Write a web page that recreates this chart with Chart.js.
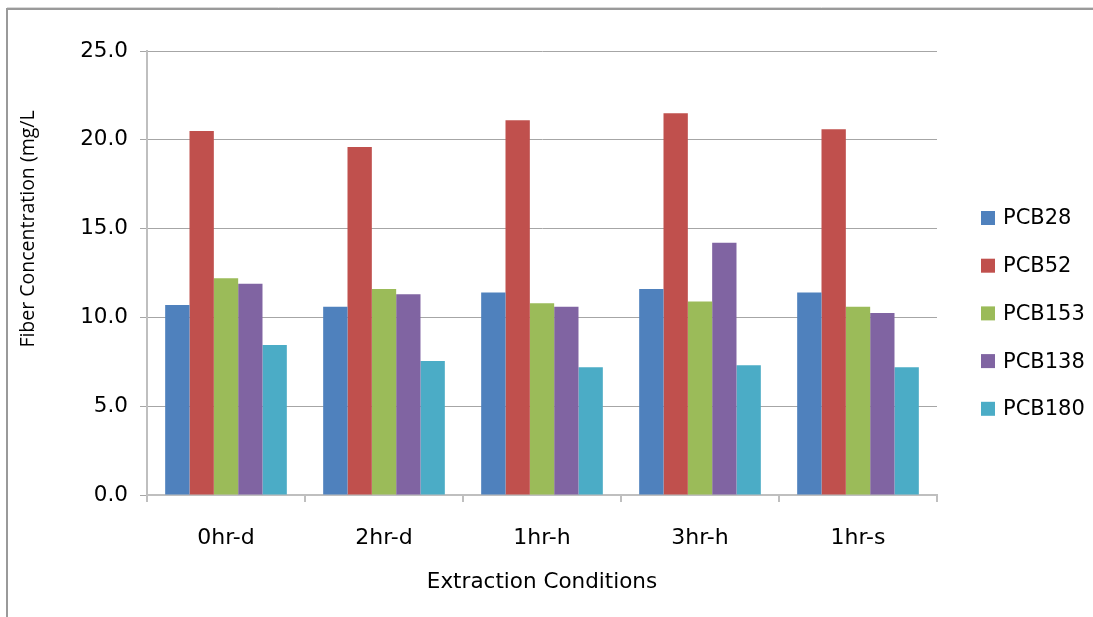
<!DOCTYPE html>
<html>
<head>
<meta charset="utf-8">
<script src="https://cdn.jsdelivr.net/npm/chart.js@4"></script>
<style>
  html, body { margin: 0; padding: 0; background: #fff; }
  #wrap { width: 1093px; height: 617px; position: relative; }
</style>
</head>
<body>
<div id="wrap"><canvas id="chart"></canvas></div>
<script>
const categories = ["0hr-d", "2hr-d", "1hr-h", "3hr-h", "1hr-s"];
const pcb28  = [10.7, 10.6, 11.4, 11.6, 11.4];
const pcb52  = [20.5, 19.6, 21.1, 21.5, 20.6];
const pcb153 = [12.2, 11.6, 10.8, 10.9, 10.6];
const pcb138 = [11.9, 11.3, 10.6, 14.2, 10.25];
const pcb180 = [8.45, 7.55, 7.2, 7.3, 7.2];
const yTicks = [0, 5, 10, 15, 20, 25];

const FONT = "'DejaVu Sans', sans-serif";

// frame, y title and legend drawn by hand
const extras = {
    id: 'extras',
    afterDraw(chart) {
        const ctx = chart.ctx;
        ctx.save();
        // outer frame (left + top)
        ctx.strokeStyle = "#d9d9d9";
        ctx.lineWidth = 1;
        ctx.beginPath();
        ctx.moveTo(7, 7.5); ctx.lineTo(1093, 7.5);
        ctx.stroke();
        ctx.strokeStyle = "#9a9a9a";
        ctx.lineWidth = 2;
        ctx.beginPath();
        ctx.moveTo(7, 9); ctx.lineTo(1093, 9);
        ctx.moveTo(7, 8); ctx.lineTo(7, 617);
        ctx.stroke();

        // y title
        ctx.fillStyle = "#000";
        ctx.font = "19.5px 'Open Sans', sans-serif";
        ctx.textAlign = "center";
        ctx.textBaseline = "middle";
        ctx.translate(28, 229);
        ctx.rotate(-Math.PI / 2);
        ctx.fillText("Fiber Concentration (mg/L", 0, 0);
        ctx.restore();

        // legend
        ctx.save();
        ctx.font = "21px " + FONT;
        ctx.textAlign = "left";
        ctx.textBaseline = "middle";
        chart.data.datasets.forEach((ds, i) => {
            const y = 218 + i * 47.7;
            ctx.fillStyle = ds.backgroundColor;
            ctx.fillRect(981, y - 7, 14, 14);
            ctx.fillStyle = "#000";
            ctx.fillText(ds.label, 1003, y + 1);
        });
        ctx.restore();
    }
};

new Chart(document.getElementById("chart"), {
    type: "bar",
    data: {
        labels: categories,
        datasets: [
            { label: "PCB28",  data: pcb28,  backgroundColor: "#4F81BD" },
            { label: "PCB52",  data: pcb52,  backgroundColor: "#C0504D" },
            { label: "PCB153", data: pcb153, backgroundColor: "#9BBB59" },
            { label: "PCB138", data: pcb138, backgroundColor: "#8064A2" },
            { label: "PCB180", data: pcb180, backgroundColor: "#4BACC6" }
        ]
    },
    options: {
        responsive: true,
        maintainAspectRatio: false,
        animation: false,
        datasets: {
            bar: { barPercentage: 1.0, categoryPercentage: 0.77, borderWidth: 0 }
        },
        layout: {
            padding: { left: 0, right: 156, top: 51, bottom: 0 }
        },
        scales: {
            x: {
                grid: { display: true, drawOnChartArea: false, offset: true, tickLength: 7, color: "#bfbfbf", lineWidth: 2 },
                border: { color: "#bfbfbf", width: 2 },
                ticks: { color: "#000", font: { family: FONT, size: 22 }, padding: 23 },
                title: { display: true, text: "Extraction Conditions", color: "#000", font: { family: FONT, size: 21.5 }, padding: { bottom: 22 } },
                afterFit(scale) { scale.height = 122; }
            },
            y: {
                min: 0,
                max: 25,
                afterBuildTicks(scale) { scale.ticks = yTicks.map(v => ({ value: v })); },
                grid: { color: "#a6a6a6", lineWidth: 1, tickLength: 7 },
                border: { color: "#bfbfbf", width: 2 },
                ticks: {
                    color: "#000",
                    font: { family: FONT, size: 21.5 },
                    padding: 12,
                    callback: v => Number(v).toFixed(1)
                },
                afterFit(scale) { scale.width = 147; }
            }
        },
        plugins: {
            legend: { display: false },
            tooltip: { enabled: false }
        }
    },
    plugins: [extras]
});
</script>
</body>
</html>
